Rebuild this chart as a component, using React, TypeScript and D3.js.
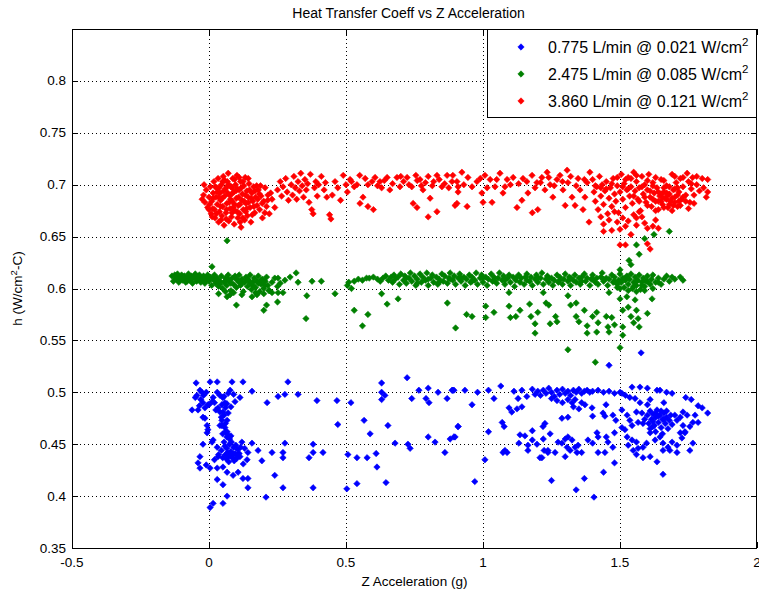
import React from 'react';
import * as d3 from 'd3';

const W = 759;
const H = 592;

const chartTitle = 'Heat Transfer Coeff vs Z Acceleration';
const xLabel = 'Z Acceleration (g)';
const xTicks = [-0.5, 0, 0.5, 1, 1.5, 2];
const xTickLabels = ['-0.5', '0', '0.5', '1', '1.5', '2'];
const yTicks = [0.35, 0.4, 0.45, 0.5, 0.55, 0.6, 0.65, 0.7, 0.75, 0.8];
const yTickLabels = ['0.35', '0.4', '0.45', '0.5', '0.55', '0.6', '0.65', '0.7', '0.75', '0.8'];
const legendFlows = ['0.775 L/min @ 0.021 W/cm', '2.475 L/min @ 0.085 W/cm', '3.860 L/min @ 0.121 W/cm'];
const seriesColors = ['#0000ff', '#008000', '#ff0000'];

const bluePoints: [number, number][] = [
  [-0.047,0.509],[0.004,0.51],[0.03,0.51],[0.084,0.51],[0.124,0.51],[-0.033,0.502],[-0.044,0.497],[-0.05,0.495],
  [-0.026,0.5],[0.04,0.497],[0.05,0.495],[0.07,0.499],[0.077,0.502],[0.113,0.495],[0.095,0.491],[-0.022,0.49],
  [0.011,0.491],[-0.004,0.488],[-0.062,0.483],[-0.04,0.483],[-0.015,0.485],[0.033,0.485],[0.047,0.488],[0.058,0.49],
  [0.051,0.481],[0.04,0.481],[-0.022,0.476],[-0.015,0.475],[0.047,0.473],[0.066,0.473],[-0.007,0.468],[-0.004,0.464],
  [-0.007,0.461],[0.047,0.468],[0.058,0.466],[0.066,0.462],[0.07,0.459],[0.04,0.468],[-0.022,0.45],[0.011,0.452],
  [0.015,0.454],[0.157,0.451],[0.142,0.442],[0.113,0.438],[0.139,0.435],[0.03,0.447],[0.033,0.438],[-0.033,0.438],
  [-0.04,0.432],[-0.033,0.427],[0.004,0.427],[0.03,0.427],[0.051,0.428],[0.066,0.423],[0.088,0.42],[0.106,0.423],
  [0.124,0.417],[0.142,0.417],[0.03,0.416],[0.051,0.411],[0.142,0.408],[0.066,0.4],[0.051,0.393],[0.015,0.393],
  [0.004,0.389],[0.208,0.399],[0.24,0.42],[0.27,0.408],[0.193,0.434],[0.179,0.444],[0.23,0.442],[0.27,0.442],
  [0.27,0.437],[0.277,0.451],[0.157,0.501],[0.212,0.49],[0.252,0.496],[0.277,0.498],[0.288,0.51],[0.325,0.498],
  [0.394,0.492],[0.47,0.469],[0.467,0.492],[0.38,0.45],[0.38,0.442],[0.416,0.442],[0.365,0.437],[0.38,0.408],
  [0.518,0.49],[0.507,0.44],[0.54,0.437],[0.503,0.407],[0.54,0.412],[0.566,0.473],[0.588,0.46],[0.577,0.437],
  [0.61,0.441],[0.613,0.428],[0.646,0.413],[0.63,0.509],[0.63,0.5],[0.642,0.497],[0.63,0.493],[0.653,0.468],
  [0.679,0.451],[0.723,0.514],[0.74,0.494],[0.726,0.45],[0.734,0.446],[0.766,0.502],[0.792,0.494],[0.8,0.504],
  [0.803,0.49],[0.836,0.5],[0.869,0.494],[0.887,0.502],[0.894,0.502],[0.8,0.457],[0.825,0.452],[0.861,0.442],
  [0.88,0.455],[0.898,0.457],[0.909,0.467],
  [0.06,0.44],[0.065,0.446],[0.07,0.438],[0.075,0.45],[0.08,0.443],[0.085,0.437],[0.09,0.447],[0.095,0.441],
  [0.1,0.436],[0.105,0.445],[0.072,0.433],[0.082,0.452],[0.092,0.434],[0.058,0.448],[0.068,0.442],[0.088,0.44],
  [0.098,0.449],[0.078,0.439],[0.11,0.441],[0.05,0.437],[0.045,0.444],[0.115,0.447],[0.063,0.436],[0.103,0.439],
  [0.03,0.5],[0.045,0.476],[0.055,0.478],[0.06,0.485],[0.02,0.49],[-0.02,0.497],[-0.01,0.5],[0.0,0.488],
  [0.015,0.495],[0.06,0.47],[0.065,0.457],[0.075,0.455],[0.06,0.462],[0.035,0.44],
  [-0.03,0.493],[-0.035,0.487],[0.025,0.483],[0.055,0.496],[0.065,0.489],[0.07,0.48],[0.08,0.486],[0.09,0.498],
  [0.05,0.46],[0.055,0.452],[0.08,0.458],[0.12,0.452],[0.125,0.431],[0.13,0.446],[0.02,0.435],[-0.01,0.43],
  [0.89,0.502],[0.934,0.502],[0.98,0.5],[1.02,0.502],[1.065,0.506],[1.04,0.494],[0.96,0.488],[0.909,0.467],
  [0.894,0.457],[1.02,0.462],[1.07,0.471],[1.077,0.467],[1.08,0.444],[1.088,0.442],[1.095,0.485],[1.105,0.481],
  [1.124,0.484],[1.142,0.486],[1.128,0.494],[1.113,0.501],[1.142,0.502],[1.16,0.496],[1.18,0.463],[1.153,0.458],
  [1.131,0.451],[1.164,0.444],[1.197,0.45],[1.22,0.455],[1.245,0.46],[1.215,0.437],[1.223,0.444],[1.237,0.444],
  [1.219,0.467],[1.226,0.47],[1.263,0.442],[1.274,0.452],[1.288,0.451],[1.3,0.455],[1.31,0.457],[1.325,0.454],
  [1.307,0.447],[1.318,0.444],[1.3,0.438],[1.336,0.447],[1.347,0.449],[1.343,0.442],[1.36,0.442],[1.383,0.454],
  [1.4,0.451],[1.42,0.457],[1.42,0.442],[1.45,0.457],[1.445,0.442],[1.456,0.452],[1.474,0.447],[1.48,0.461],
  [1.416,0.461],[1.288,0.475],[1.31,0.476],[1.4,0.477],[1.438,0.48],[1.445,0.477],[1.474,0.478],[1.485,0.473],
  [1.398,0.485],[1.449,0.488],[1.36,0.49],[1.372,0.488],[1.31,0.493],[1.336,0.493],[1.325,0.49],
  [1.007,0.435],[0.97,0.414],[1.25,0.415],[1.34,0.406],[1.37,0.417],[1.405,0.399],[1.44,0.423],[1.48,0.432],
  [1.635,0.433],[1.657,0.421],[1.61,0.438],[1.46,0.526],[1.577,0.538],
  [1.507,0.499],[1.536,0.495],[1.555,0.494],[1.573,0.49],[1.6,0.488],[1.544,0.505],[1.573,0.505],[1.6,0.504],
  [1.635,0.502],[1.646,0.502],[1.67,0.5],[1.69,0.499],[1.507,0.483],[1.526,0.478],[1.536,0.473],[1.56,0.481],
  [1.507,0.466],[1.518,0.464],[1.544,0.468],[1.566,0.471],[1.584,0.47],[1.61,0.461],[1.62,0.467],[1.526,0.457],
  [1.544,0.454],[1.56,0.452],[1.53,0.449],[1.548,0.444],[1.566,0.446],[1.584,0.447],[1.597,0.451],[1.628,0.454],
  [1.646,0.457],[1.657,0.451],[1.675,0.447],[1.69,0.452],[1.708,0.449],[1.726,0.456],[1.737,0.462],[1.755,0.467],
  [1.766,0.471],[1.785,0.471],[1.774,0.478],[1.745,0.478],[1.73,0.481],[1.72,0.476],[1.7,0.478],[1.708,0.473],
  [1.73,0.468],[1.737,0.461],[1.72,0.461],[1.755,0.444],[1.766,0.451],[1.708,0.442],[1.682,0.444],[1.657,0.444],
  [1.584,0.437],[1.56,0.44],[1.61,0.493],[1.66,0.49],[1.74,0.495],[1.76,0.493],[1.785,0.487],[1.8,0.485],[1.82,0.48],
  [1.6,0.478],[1.605,0.47],[1.61,0.482],[1.615,0.474],[1.62,0.479],[1.625,0.468],[1.63,0.476],[1.635,0.483],
  [1.64,0.471],[1.645,0.478],[1.65,0.466],[1.655,0.474],[1.66,0.48],[1.665,0.47],[1.67,0.476],[1.675,0.465],
  [1.68,0.473],[1.62,0.472],[1.64,0.477],[1.66,0.474],[1.63,0.48],[1.65,0.482],[1.59,0.474],[1.58,0.48],
  [1.67,0.482],[1.685,0.478],[1.69,0.469],[1.61,0.465],[1.63,0.462],[1.655,0.46],
  [1.18,0.503],[1.19,0.498],[1.2,0.501],[1.21,0.497],[1.22,0.502],[1.23,0.499],[1.24,0.504],[1.25,0.5],
  [1.26,0.496],[1.27,0.502],[1.28,0.498],[1.29,0.503],[1.3,0.499],[1.31,0.501],[1.32,0.497],[1.33,0.502],
  [1.34,0.5],[1.35,0.503],[1.36,0.499],[1.37,0.501],[1.38,0.502],[1.39,0.5],[1.4,0.501],[1.42,0.502],
  [1.44,0.5],[1.46,0.501],[1.48,0.499],[1.5,0.5],[1.52,0.497],[1.25,0.494],[1.27,0.492],[1.29,0.49],
  [1.33,0.486],[1.35,0.484],[1.073,0.442],[1.135,0.459],[1.18,0.454],[1.164,0.449],[1.208,0.437],[1.237,0.442]
];

const greenPoints: [number, number][] = [
  [-0.135,0.612],[-0.13,0.607],[-0.125,0.613],[-0.12,0.609],[-0.115,0.614],[-0.11,0.606],[-0.105,0.611],[-0.1,0.613],
  [-0.095,0.608],[-0.09,0.612],[-0.085,0.606],[-0.08,0.61],[-0.075,0.614],[-0.07,0.608],[-0.065,0.612],[-0.06,0.605],
  [-0.055,0.61],[-0.05,0.614],[-0.045,0.607],[-0.04,0.611],[-0.035,0.613],[-0.03,0.606],[-0.025,0.61],[-0.02,0.612],
  [-0.015,0.605],[-0.01,0.609],[-0.005,0.613],[0,0.607],[0.005,0.611],[0.01,0.603],[0.015,0.609],[0.02,0.613],
  [0.025,0.605],[0.03,0.61],[0.035,0.602],[0.04,0.607],[0.045,0.612],[0.05,0.6],[0.055,0.606],[0.06,0.61],
  [0.065,0.603],[0.07,0.613],[0.075,0.607],[0.08,0.598],[0.085,0.61],[0.09,0.604],[0.095,0.612],[0.1,0.601],
  [0.105,0.608],[0.11,0.613],[0.115,0.603],[0.12,0.609],[0.125,0.597],[0.13,0.606],[0.135,0.611],[0.14,0.602],
  [0.145,0.608],[0.15,0.613],[0.155,0.599],[0.16,0.606],[0.165,0.61],[0.17,0.601],[0.175,0.607],[0.18,0.612],
  [0.185,0.597],[0.19,0.604],[0.195,0.609],[0.2,0.6],[0.205,0.607],[0.21,0.611],[0.215,0.603],[0.22,0.598],
  [0.23,0.606],[0.24,0.61],[0.25,0.602],
  [-0.12,0.61],[-0.1,0.609],[-0.08,0.607],[-0.06,0.611],[-0.04,0.609],[-0.02,0.608],[0,0.61],[0.02,0.608],
  [0.04,0.604],[0.06,0.607],[0.08,0.605],[0.1,0.609],[0.12,0.605],[0.14,0.609],[0.16,0.603],[0.18,0.605],
  [0.2,0.606],[0.03,0.607],[0.07,0.609],[0.11,0.606],[0.15,0.605],[0.19,0.608],[0.035,0.595],[0.06,0.597],
  [0.09,0.596],[0.12,0.594],[0.17,0.596],[0.2,0.595],[0.23,0.596],
  [0.066,0.592],[0.1,0.584],[0.2,0.579],[0.21,0.584],[0.25,0.587],[0.354,0.571],[0.357,0.593],[0.011,0.621],
  [0.066,0.646],[0.252,0.61],[0.26,0.605],[0.277,0.608],[0.296,0.611],[0.318,0.615],[0.325,0.606],[0.376,0.607],
  [0.41,0.607],[0.46,0.595],[0.27,0.596],[0.252,0.596],[0.219,0.598],[0.175,0.594],[0.157,0.592],[0.077,0.594],
  [0.204,0.603],
  [0.505,0.603],[0.51,0.606],[0.52,0.6],[0.53,0.607],[0.545,0.609],[0.56,0.608],[0.575,0.61],[0.585,0.61],
  [0.6,0.611],[0.615,0.609],[0.625,0.607],[0.635,0.61],[0.645,0.612],[0.655,0.608],[0.665,0.611],
  [0.67,0.606],[0.675,0.613],[0.68,0.609],[0.69,0.611],[0.695,0.604],[0.7,0.614],[0.71,0.608],[0.715,0.612],
  [0.72,0.605],[0.73,0.61],[0.735,0.615],[0.74,0.607],[0.75,0.612],[0.755,0.603],[0.76,0.609],[0.77,0.614],
  [0.775,0.606],[0.78,0.611],[0.79,0.608],[0.795,0.615],[0.8,0.603],[0.81,0.61],[0.815,0.613],[0.82,0.606],
  [0.83,0.611],[0.835,0.604],[0.84,0.609],[0.85,0.614],[0.855,0.607],[0.86,0.612],[0.87,0.605],[0.875,0.61],
  [0.88,0.615],[0.89,0.608],[0.895,0.612],[0.9,0.604],[0.91,0.61],[0.915,0.614],[0.92,0.607],[0.93,0.611],
  [0.935,0.603],[0.94,0.609],[0.95,0.613],[0.955,0.606],[0.96,0.611],[0.97,0.608],[0.975,0.615],[0.98,0.604],
  [0.99,0.61],[0.995,0.613],[1.0,0.606],[1.01,0.611],[1.015,0.603],[1.02,0.609],[1.03,0.614],[1.035,0.607],
  [1.04,0.611],[1.05,0.605],[1.055,0.61],[1.06,0.615],[1.07,0.608],[1.075,0.612],[1.08,0.604],[1.09,0.61],
  [1.095,0.613],[1.1,0.606],[1.11,0.611],[1.115,0.602],[1.12,0.608],[1.13,0.613],[1.135,0.606],[1.14,0.61],
  [1.15,0.604],[1.155,0.611],[1.16,0.614],[1.17,0.607],[1.175,0.611],[1.18,0.603],[1.19,0.609],[1.195,0.613],
  [1.2,0.606],[1.21,0.61],[1.215,0.615],[1.22,0.604],[1.23,0.609],[1.235,0.612],[1.24,0.606],[1.25,0.61],
  [1.255,0.603],[1.26,0.608],[1.27,0.613],[1.275,0.606],[1.28,0.611],[1.29,0.604],[1.295,0.609],[1.3,0.614],
  [1.31,0.607],[1.315,0.611],[1.32,0.603],[1.33,0.608],[1.335,0.613],[1.34,0.606],[1.35,0.61],[1.355,0.604],
  [1.36,0.611],[1.37,0.614],[1.375,0.607],[1.38,0.61],[1.39,0.603],[1.395,0.609],[1.4,0.613],[1.41,0.606],
  [1.415,0.61],[1.42,0.604],[1.43,0.611],[1.435,0.615],[1.44,0.607],[1.45,0.61],[1.455,0.603],[1.46,0.609],
  [1.47,0.613],[1.475,0.606],[1.48,0.611],[1.49,0.604],[1.495,0.608],[1.5,0.614],[1.505,0.606],[1.51,0.61],
  [1.515,0.601],[1.52,0.608],[1.525,0.612],[1.53,0.604],[1.535,0.609],[1.54,0.614],[1.545,0.6],[1.55,0.606],
  [1.555,0.611],[1.56,0.603],[1.565,0.608],[1.57,0.613],[1.575,0.599],[1.58,0.606],[1.585,0.61],[1.59,0.602],
  [1.595,0.607],[1.6,0.612],[1.61,0.604],[1.615,0.609],[1.62,0.613],[1.63,0.606],[1.64,0.61],[1.65,0.604],
  [1.66,0.609],[1.67,0.612],[1.68,0.607],[1.69,0.611],[1.7,0.609],[1.72,0.611],[1.73,0.608],
  [0.72,0.61],[0.8,0.609],[0.88,0.609],[0.96,0.607],[1.04,0.608],[1.12,0.61],[1.2,0.61],[1.28,0.608],
  [1.36,0.607],[1.44,0.609],[1.52,0.61],[1.6,0.607],[0.76,0.605],[0.84,0.606],[0.92,0.61],[1.0,0.61],
  [1.08,0.608],[1.16,0.608],[1.24,0.61],[1.32,0.61],[1.4,0.609],[1.48,0.607],[1.56,0.607],[1.64,0.606],
  [1.53,0.598],[1.56,0.597],[1.59,0.598],[1.62,0.6],[1.55,0.602],[1.58,0.603],[1.5,0.6],
  [0.53,0.579],[0.56,0.564],[0.58,0.575],[0.63,0.595],[0.65,0.585],[0.69,0.59],[0.87,0.586],[0.9,0.562],
  [0.94,0.575],[0.96,0.573],[1.01,0.583],[1.01,0.572],[1.04,0.577],[1.095,0.596],[1.095,0.583],[1.1,0.572],
  [1.12,0.573],[1.135,0.579],[1.17,0.585],[1.175,0.573],[1.19,0.566],[1.19,0.557],[1.2,0.577],[1.22,0.596],
  [1.23,0.586],[1.24,0.584],[1.245,0.566],[1.265,0.573],[1.27,0.568],[1.31,0.593],[1.31,0.541],[1.32,0.584],
  [1.34,0.586],[1.34,0.573],[1.35,0.568],[1.37,0.579],[1.38,0.564],[1.38,0.557],[1.4,0.573],[1.415,0.577],
  [1.415,0.558],[1.42,0.567],[1.45,0.573],[1.456,0.563],[1.46,0.558],[1.47,0.572],[1.48,0.565],[1.46,0.596],
  [1.49,0.601],[1.5,0.59],[1.51,0.579],[1.51,0.563],[1.51,0.555],[1.5,0.543],[1.525,0.592],[1.53,0.582],
  [1.54,0.573],[1.55,0.567],[1.555,0.589],[1.56,0.579],[1.566,0.571],[1.57,0.563],[1.6,0.576],[1.617,0.59],
  [1.533,0.627],[1.54,0.623],[1.56,0.642],[1.57,0.633],[1.59,0.648],[1.624,0.652],[1.68,0.655],[1.5,0.618],
  [1.41,0.529]
];

const redPoints: [number, number][] = [
  [-0.02,0.69],[-0.015,0.683],[-0.01,0.695],[-0.005,0.678],[0,0.688],[0.005,0.698],[0.008,0.672],[0.01,0.684],
  [0.015,0.692],[0.018,0.703],[0.02,0.676],[0.022,0.668],[0.025,0.688],[0.028,0.697],[0.03,0.681],[0.033,0.706],
  [0.035,0.664],[0.038,0.674],[0.04,0.692],[0.042,0.685],[0.045,0.7],[0.047,0.67],[0.05,0.679],[0.052,0.708],
  [0.055,0.661],[0.057,0.689],[0.06,0.696],[0.062,0.673],[0.065,0.682],[0.067,0.703],[0.07,0.711],[0.072,0.665],
  [0.075,0.69],[0.077,0.677],[0.08,0.698],[0.082,0.669],[0.085,0.684],[0.087,0.706],[0.09,0.693],[0.092,0.662],
  [0.095,0.675],[0.097,0.7],[0.1,0.687],[0.102,0.709],[0.105,0.668],[0.107,0.68],[0.11,0.695],[0.112,0.672],
  [0.115,0.703],[0.117,0.659],[0.12,0.685],[0.122,0.691],[0.125,0.676],[0.127,0.699],[0.13,0.666],[0.132,0.707],
  [0.135,0.682],[0.138,0.694],[0.14,0.67],[0.143,0.688],[0.146,0.701],[0.15,0.678],[0.153,0.664],[0.156,0.692],
  [0.16,0.684],[0.163,0.698],[0.167,0.673],[0.17,0.688],[0.175,0.68],[0.18,0.695],[0.185,0.676],[0.19,0.689],
  [0.195,0.668],[0.2,0.684],[0.205,0.697],[0.21,0.679],[0.215,0.69],[0.22,0.672],[0.23,0.686],[0.24,0.678],
  [0.0,0.676],[0.012,0.669],[0.03,0.693],[0.048,0.687],[0.058,0.704],[0.068,0.692],[0.078,0.686],[0.088,0.678],
  [0.098,0.694],[0.108,0.688],[0.118,0.697],[0.128,0.684],[0.138,0.677],[0.148,0.695],[0.158,0.671],[0.073,0.7],
  [0.063,0.667],[0.043,0.679],[0.023,0.698],[0.093,0.705],[0.113,0.681],[0.133,0.69],[0.053,0.694],[0.083,0.691],
  [0.103,0.674],[0.123,0.668],[0.143,0.706],[0.168,0.694],[0.178,0.686],[0.188,0.699],
  [-0.025,0.686],[-0.018,0.7],[0.002,0.681],[0.014,0.677],[0.027,0.672],[0.037,0.697],[0.044,0.666],[0.064,0.676],
  [0.074,0.683],[0.084,0.673],[0.094,0.681],[0.104,0.696],[0.114,0.664],[0.124,0.703],[0.134,0.674],[0.144,0.683],
  [0.154,0.687],[0.164,0.679],[0.174,0.699],[0.184,0.691],[0.194,0.682],[0.204,0.673],[0.214,0.685],[0.225,0.692],
  [0.05,0.703],[0.11,0.707],[0.085,0.697],[0.065,0.698],[0.035,0.688],[0.015,0.687],
  [0.25,0.695],[0.26,0.703],[0.265,0.689],[0.27,0.698],[0.28,0.706],[0.285,0.693],[0.29,0.685],[0.3,0.7],
  [0.305,0.69],[0.31,0.708],[0.315,0.697],[0.32,0.686],[0.325,0.703],[0.33,0.694],[0.335,0.711],[0.34,0.699],
  [0.345,0.688],[0.35,0.705],[0.355,0.695],[0.36,0.701],[0.365,0.683],[0.37,0.71],[0.375,0.676],[0.38,0.672],
  [0.385,0.697],[0.39,0.703],[0.395,0.689],[0.4,0.7],[0.41,0.708],[0.42,0.695],[0.425,0.702],[0.43,0.688],
  [0.44,0.671],[0.445,0.667],[0.45,0.69],[0.46,0.703],[0.47,0.697],[0.48,0.685],[0.49,0.709],[0.5,0.7],
  [0.505,0.693],[0.515,0.705],[0.55,0.709],[0.562,0.688],[0.551,0.682],[0.58,0.679],[0.6,0.676],[0.606,0.707],
  [0.624,0.703],[0.65,0.707],[0.686,0.707],[0.697,0.698],[0.723,0.707],[0.745,0.682],[0.759,0.678],[0.77,0.705],
  [0.781,0.695],[0.8,0.669],[0.807,0.687],[0.832,0.674],[0.832,0.709],[0.85,0.698],[0.869,0.709],[0.887,0.703],
  [0.898,0.68],[0.909,0.698],[0.66,0.695],[0.7,0.708],[0.74,0.698],[0.76,0.704],[0.79,0.702],[0.82,0.703],
  [0.86,0.701],[0.58,0.7],[0.53,0.698],[0.63,0.697],
  [0.52,0.703],[0.54,0.7],[0.57,0.706],[0.595,0.703],[0.615,0.699],[0.64,0.704],[0.67,0.701],[0.71,0.703],
  [0.73,0.7],[0.755,0.709],[0.775,0.699],[0.8,0.708],[0.815,0.699],[0.84,0.705],[0.875,0.697],[0.89,0.709],
  [0.905,0.703],[0.923,0.712],[0.909,0.693],[0.905,0.682],[0.942,0.679],[0.945,0.707],[0.96,0.698],[0.978,0.703],
  [0.996,0.692],[1.0,0.683],[1.007,0.709],[1.026,0.705],[1.033,0.683],[1.044,0.698],[1.062,0.711],[1.073,0.692],
  [1.088,0.705],[1.1,0.7],[1.124,0.678],[1.142,0.685],[1.146,0.706],[1.164,0.692],[1.179,0.709],[1.18,0.673],
  [1.197,0.702],[1.2,0.676],[1.215,0.707],[1.226,0.695],[1.234,0.712],[1.245,0.7],[1.255,0.688],[1.27,0.705],
  [1.281,0.709],[1.292,0.695],[1.3,0.68],[1.307,0.714],[1.31,0.702],[1.325,0.688],[1.336,0.68],[1.347,0.706],
  [1.354,0.695],[1.365,0.676],[1.372,0.688],[1.38,0.702],[1.387,0.664],[1.39,0.712],
  [0.93,0.7],[0.99,0.706],[1.015,0.697],[1.05,0.705],[1.08,0.698],[1.11,0.707],[1.13,0.701],[1.16,0.703],
  [1.19,0.697],[1.21,0.702],[1.24,0.707],[1.26,0.699],[1.29,0.703],[1.32,0.708],[1.34,0.699],[1.37,0.705],
  [1.4,0.705],[1.405,0.693],[1.41,0.684],[1.415,0.698],[1.42,0.676],[1.425,0.708],[1.43,0.689],[1.435,0.7],
  [1.44,0.681],[1.445,0.694],[1.45,0.703],[1.455,0.672],[1.46,0.687],[1.465,0.697],[1.47,0.679],[1.475,0.706],
  [1.48,0.691],[1.485,0.684],[1.49,0.699],[1.495,0.673],[1.5,0.693],[1.505,0.71],[1.51,0.686],[1.515,0.701],
  [1.52,0.678],[1.525,0.695],[1.53,0.707],[1.535,0.689],[1.54,0.698],[1.545,0.682],[1.55,0.712],[1.555,0.694],
  [1.56,0.703],[1.565,0.686],[1.57,0.697],[1.575,0.675],[1.58,0.708],[1.585,0.691],[1.59,0.7],[1.595,0.683],
  [1.6,0.695],[1.605,0.71],[1.61,0.688],[1.615,0.679],[1.62,0.702],[1.625,0.692],[1.63,0.684],[1.635,0.697],
  [1.64,0.676],[1.645,0.689],[1.65,0.705],[1.655,0.681],[1.66,0.693],[1.665,0.687],[1.67,0.699],[1.675,0.678],
  [1.68,0.691],[1.685,0.684],[1.69,0.71],[1.695,0.695],[1.7,0.688],[1.705,0.702],[1.71,0.679],[1.715,0.693],
  [1.72,0.706],[1.725,0.686],[1.73,0.698],[1.74,0.69],[1.745,0.711],[1.75,0.703],[1.755,0.683],[1.76,0.696],
  [1.765,0.707],[1.77,0.69],[1.78,0.7],[1.79,0.694],[1.8,0.706],[1.805,0.697],[1.82,0.705],[1.82,0.693],
  [1.815,0.688],
  [1.6,0.68],[1.62,0.686],[1.63,0.675],[1.64,0.684],[1.65,0.691],[1.66,0.678],[1.67,0.686],[1.68,0.681],
  [1.69,0.675],[1.7,0.683],[1.71,0.69],[1.72,0.68],[1.73,0.688],[1.64,0.693],[1.66,0.697],[1.68,0.698],
  [1.7,0.696],[1.62,0.699],[1.61,0.694],[1.59,0.688],[1.57,0.684],[1.55,0.689],[1.53,0.696],[1.51,0.698],
  [1.49,0.707],[1.47,0.701],[1.45,0.696],[1.43,0.697],[1.41,0.699],[1.52,0.705],[1.54,0.706],[1.56,0.709],
  [1.58,0.698],[1.6,0.704],[1.63,0.707],[1.66,0.704],[1.7,0.708],[1.73,0.707],[1.76,0.701],[1.78,0.708],
  [1.74,0.684],[1.75,0.677],[1.77,0.682],
  [1.65,0.684],[1.67,0.692],[1.69,0.687],[1.71,0.697],[1.675,0.69],[1.655,0.688],[1.695,0.68],[1.715,0.684],
  [1.43,0.669],[1.44,0.662],[1.44,0.655],[1.47,0.656],[1.46,0.666],[1.49,0.664],[1.5,0.657],[1.51,0.668],
  [1.52,0.66],[1.54,0.652],[1.53,0.665],[1.55,0.671],[1.56,0.661],[1.58,0.669],[1.59,0.663],[1.6,0.658],
  [1.62,0.66],[1.63,0.666],[1.64,0.658],[1.5,0.642],[1.52,0.642],[1.6,0.643],[1.61,0.638],[1.57,0.674],
  [1.48,0.674],[1.56,0.668]
];

const series = [bluePoints, greenPoints, redPoints];

const left = 72, right = 757, top = 29, bottom = 548;
const FONT = '"Liberation Sans", Arial, Helvetica, sans-serif';

export default function App() {
  const x = d3.scaleLinear().domain([-0.5, 2]).range([left, right]);
  const y = d3.scaleLinear().domain([0.35, 0.85]).range([bottom, top]);
  const diamond = d3.symbol().type(d3.symbolDiamond2).size(26)();
  const tickLen = 6;

  return (
    <svg width={W} height={H} style={{ position: 'absolute', left: 0, top: 0, background: '#fff' }}>
      <rect x={0} y={0} width={W} height={H} fill="#fff" />
      <g stroke="#000" strokeWidth={1} strokeDasharray="1 3" shapeRendering="crispEdges">
        {xTicks.slice(1, -1).map((t) => (
          <line key={'gx' + t} x1={Math.round(x(t)) + 0.5} x2={Math.round(x(t)) + 0.5} y1={bottom} y2={top} />
        ))}
        {yTicks.slice(1).map((t) => (
          <line key={'gy' + t} x1={left} x2={right} y1={Math.round(y(t)) + 0.5} y2={Math.round(y(t)) + 0.5} />
        ))}
      </g>
      {series.map((pts, i) => (
        <g key={'s' + i} fill={seriesColors[i]} stroke={seriesColors[i]} strokeWidth={0.6}>
          {pts.map((p, j) => (
            <path key={j} d={diamond} transform={`translate(${x(p[0])},${y(p[1])})`} />
          ))}
        </g>
      ))}
      <rect x={left + 0.5} y={top + 0.5} width={right - left - 1} height={bottom - top} fill="none" stroke="#000" strokeWidth={1} shapeRendering="crispEdges" />
      <g stroke="#000" strokeWidth={1} shapeRendering="crispEdges">
        {xTicks.map((t) => (
          <g key={'tx' + t}>
            <line x1={Math.round(x(t)) + 0.5} x2={Math.round(x(t)) + 0.5} y1={bottom} y2={bottom - tickLen} />
            <line x1={Math.round(x(t)) + 0.5} x2={Math.round(x(t)) + 0.5} y1={top} y2={top + tickLen} />
          </g>
        ))}
        {yTicks.map((t) => (
          <g key={'ty' + t}>
            <line x1={left} x2={left + tickLen} y1={Math.round(y(t)) + 0.5} y2={Math.round(y(t)) + 0.5} />
            <line x1={right - tickLen} x2={right} y1={Math.round(y(t)) + 0.5} y2={Math.round(y(t)) + 0.5} />
          </g>
        ))}
      </g>
      <g fontFamily={FONT} fontSize={13.5} fill="#000">
        {xTicks.map((t, i) => (
          <text key={'lx' + t} x={x(t)} y={567} textAnchor="middle">{xTickLabels[i]}</text>
        ))}
        {yTicks.map((t, i) => (
          <text key={'ly' + t} x={left - 6} y={y(t) + 4.5} textAnchor="end">{yTickLabels[i]}</text>
        ))}
      </g>
      <text x={(left + right) / 2 - 6} y={18} textAnchor="middle" fontFamily={FONT} fontSize={14}>{chartTitle}</text>
      <text x={(left + right) / 2} y={586} textAnchor="middle" fontFamily={FONT} fontSize={13.5}>{xLabel}</text>
      <text transform={`translate(22,${(top + bottom) / 2}) rotate(-90)`} textAnchor="middle" fontFamily={FONT} fontSize={13.5}>
        h (W/cm<tspan dy={-5} fontSize={9.5}>2</tspan><tspan dy={5}>-C)</tspan>
      </text>
      <g>
        <rect x={487.5} y={29.5} width={269} height={88} fill="#fff" stroke="#000" strokeWidth={1} shapeRendering="crispEdges" />
        {legendFlows.map((label, i) => (
          <g key={'lg' + i}>
            <path d={diamond} transform={`translate(521,${47 + i * 27})`} fill={seriesColors[i]} stroke={seriesColors[i]} strokeWidth={0.6} />
            <text x={548} y={47 + i * 27 + 5.5} fontFamily={FONT} fontSize={16}>
              {label}<tspan dy={-7} fontSize={11.5}>2</tspan>
            </text>
          </g>
        ))}
      </g>
    </svg>
  );
}
